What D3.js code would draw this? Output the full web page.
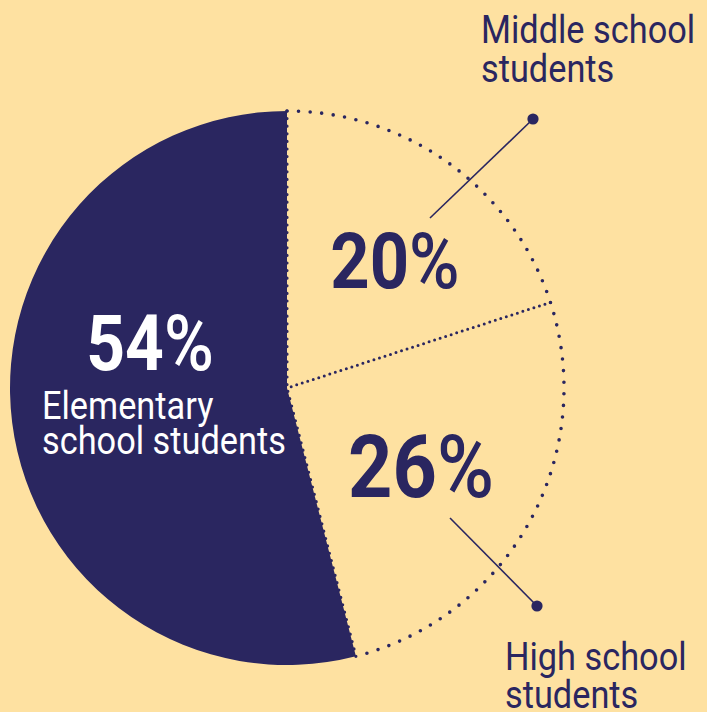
<!DOCTYPE html>
<html lang="en">
<head>
  <meta charset="UTF-8">
  <title>Students by school level</title>
  <style>
    html, body {
      margin: 0;
      padding: 0;
      background-color: #fee1a1;
    }
    svg {
      display: block;
      font-family: Roboto, "Noto Sans", sans-serif;
    }
    .label {
      font-size: 39px;
      font-weight: 400;
    }
    .pct {
      font-weight: 700;
    }
  </style>
</head>
<body>

<svg width="707" height="712"></svg>

<script src="https://cdnjs.cloudflare.com/ajax/libs/d3/7.8.5/d3.min.js"></script>
<script>
  // data
  const categories = ["Middle school students", "High school students", "Elementary school students"];
  const shares = [20, 26, 54];
  const percentLabels = ["20%", "26%", "54%"];
  const labelLines = [["Middle school", "students"], ["High school", "students"], ["Elementary", "school students"]];

  const navy = "#2a2660";
  const svg = d3.select("svg");
  const cx = 287, cy = 388, R = 277;
  const condense = 0.88;

  // layout (offsets from pie centre)
  const layout = [
    { fill: "none", pctSize: 78, pctColor: navy, pctDx: 108, pctDy: -100,
      labelDx: 194, labelDy: -345, lineGap: 39, labelColor: navy,
      leader: [[143, -170], [246, -269]] },
    { fill: "none", pctSize: 88, pctColor: navy, pctDx: 134, pctDy: 109,
      labelDx: 218, labelDy: 282, lineGap: 38, labelColor: navy,
      leader: [[163, 130], [250, 218]] },
    { fill: navy, pctSize: 77, pctColor: "#fff", pctDx: -137, pctDy: -18,
      labelDx: -245, labelDy: 31, lineGap: 35, labelColor: "#fff",
      leader: null }
  ];

  const g = svg.append("g").attr("transform", `translate(${cx},${cy})`);

  const pie = d3.pie().sort(null).value(d => d);
  const arcs = pie(shares);
  const arc = d3.arc().innerRadius(0).outerRadius(R);

  g.selectAll("path.slice")
    .data(arcs)
    .enter()
    .append("path")
    .attr("class", "slice")
    .attr("d", arc)
    .attr("fill", (d, i) => layout[i].fill)
    .attr("stroke", "none");

  // dotted outline of the light part of the pie
  const lightEnd = arcs[1].endAngle;
  const outline = d3.path();
  outline.arc(0, 0, R, -Math.PI / 2, lightEnd - Math.PI / 2);
  g.append("path")
    .attr("d", outline.toString())
    .attr("fill", "none")
    .attr("stroke", navy)
    .attr("stroke-width", 3.6)
    .attr("stroke-linecap", "round")
    .attr("stroke-dasharray", "0 11.6");

  // dotted radii at slice boundaries
  const boundaries = [arcs[0].startAngle, arcs[0].endAngle, arcs[1].endAngle];
  boundaries.forEach((a, i) => {
    const x = R * Math.sin(a), y = -R * Math.cos(a);
    g.append("line")
      .attr("x1", x).attr("y1", y)
      .attr("x2", 0).attr("y2", 0)
      .attr("stroke", navy)
      .attr("stroke-width", i === 1 ? 3 : 3.2)
      .attr("stroke-linecap", "round")
      .attr("stroke-dasharray", i === 1 ? "0 5.8" : "0 7.6");
  });

  // leader lines
  layout.forEach((l) => {
    if (!l.leader) return;
    g.append("line")
      .attr("x1", l.leader[0][0]).attr("y1", l.leader[0][1])
      .attr("x2", l.leader[1][0]).attr("y2", l.leader[1][1])
      .attr("stroke", navy)
      .attr("stroke-width", 1.6);
    g.append("circle")
      .attr("cx", l.leader[1][0]).attr("cy", l.leader[1][1])
      .attr("r", 5.6)
      .attr("fill", navy);
  });

  // percentages
  percentLabels.forEach((p, i) => {
    const l = layout[i];
    const t = g.append("text")
      .attr("class", "pct")
      .attr("x", l.pctDx)
      .attr("y", l.pctDy)
      .attr("text-anchor", "middle")
      .attr("fill", l.pctColor)
      .style("font-size", l.pctSize + "px");
    t.append("tspan").text(p.slice(0, -1));
    t.append("tspan").attr("font-weight", 500).text("%");
    const w = t.node().getComputedTextLength();
    t.attr("textLength", w * condense).attr("lengthAdjust", "spacingAndGlyphs");
  });

  // category labels
  labelLines.forEach((lines, i) => {
    const l = layout[i];
    lines.forEach((line, j) => {
      const t = g.append("text")
        .attr("class", "label")
        .attr("x", l.labelDx)
        .attr("y", l.labelDy + j * l.lineGap)
        .attr("fill", l.labelColor)
        .text(line);
      const w = t.node().getComputedTextLength();
      t.attr("textLength", w * condense).attr("lengthAdjust", "spacingAndGlyphs");
    });
  });
</script>

</body>
</html>
